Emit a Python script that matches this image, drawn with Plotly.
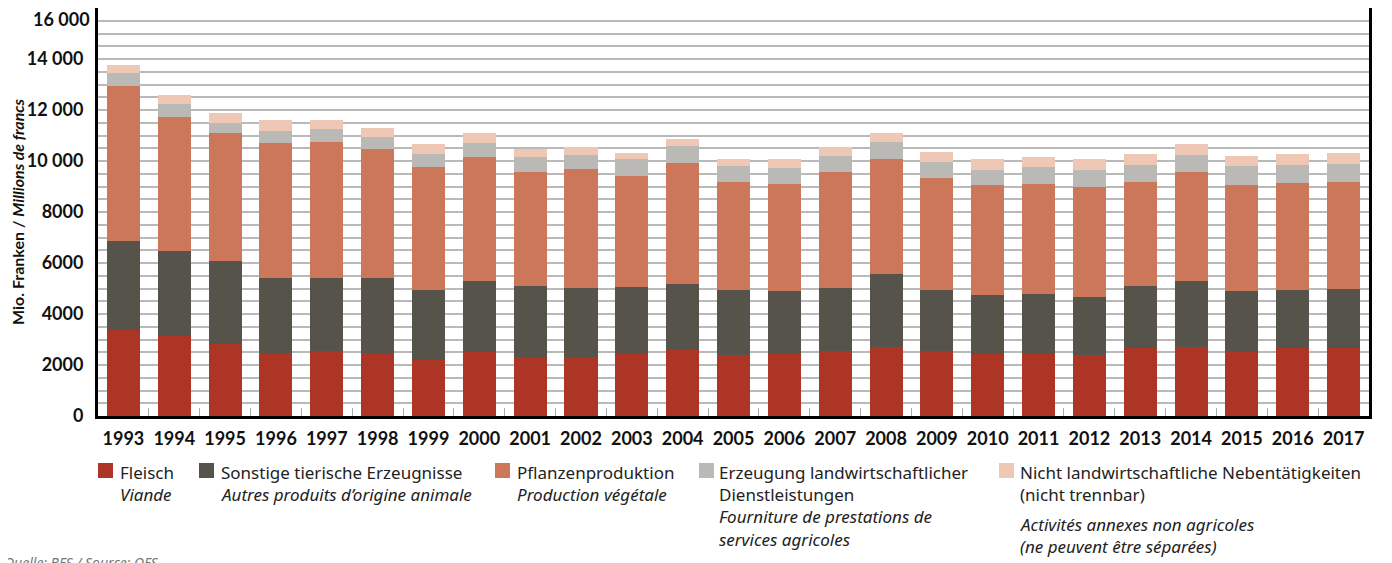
import plotly.graph_objects as go

years = [str(y) for y in range(1993, 2018)]

fleisch = [3390, 3150, 2840, 2470, 2550, 2470, 2210, 2520, 2330, 2330, 2440, 2600, 2410,
           2440, 2560, 2720, 2560, 2440, 2440, 2410, 2680, 2720, 2520, 2680, 2680]
sonstige = [3490, 3340, 3250, 2960, 2880, 2960, 2750, 2790, 2780, 2700, 2630, 2590, 2550,
            2480, 2470, 2860, 2400, 2320, 2360, 2270, 2430, 2590, 2400, 2280, 2310]
pflanzen = [6080, 5250, 4990, 5290, 5330, 5060, 4820, 4860, 4470, 4670, 4360, 4750, 4230,
            4190, 4550, 4510, 4390, 4280, 4310, 4320, 4080, 4240, 4150, 4190, 4200]
dienst = [510, 510, 430, 470, 510, 470, 510, 550, 590, 550, 630, 660, 630,
          630, 630, 670, 630, 620, 670, 660, 670, 700, 750, 710, 710]
neben = [310, 320, 390, 430, 350, 350, 390, 360, 320, 280, 270, 280, 270,
         320, 320, 350, 390, 400, 390, 430, 430, 430, 390, 430, 430]

series_de = ["Fleisch", "Sonstige tierische Erzeugnisse", "Pflanzenproduktion",
             "Erzeugung landwirtschaftlicher Dienstleistungen",
             "Nicht landwirtschaftliche Nebentätigkeiten (nicht trennbar)"]
series_fr = ["Viande", "Autres produits d’origine animale", "Production végétale",
             "Fourniture de prestations de services agricoles",
             "Activités annexes non agricoles (ne peuvent être séparées)"]
colors = ["#AD3525", "#56544A", "#CC775A", "#BBB9B6", "#EEC8B4"]

ytickvals = [0, 2000, 4000, 6000, 8000, 10000, 12000, 14000]
yticktext = ["0", "2000", "4000", "6000", "8000", "10 000", "12 000", "14 000"]
ymax = 16000
ymax_label = "16 000"

fig = go.Figure()
for vals, de, fr, col in zip([fleisch, sonstige, pflanzen, dienst, neben], series_de, series_fr, colors):
    fig.add_trace(go.Bar(x=years, y=vals, name=de + " / " + fr, marker=dict(color=col, line=dict(width=0)),
                         showlegend=False))

# page offset of the figure (body margin)
OFF = 8
W, H = 1392, 563
# plot area in page pixels: left 98, right 1369, top 8, bottom 416
L = 98 - OFF
T = 8 - OFF
R = W - (1369 - OFF)
B = H - (416 - OFF)
pw, ph = W - L - R, H - T - B


def px(x):
    return (x - OFF - L) / pw


def py(y):
    return (H - B - (y - OFF)) / ph


txt_col = "#222222"
lfont = "Noto Sans"
tfont = dict(family="Lato", size=18, color="#111111", weight="bold")
fs = 17
annotations = []
shapes = []

legend_items = [
    (98, 118, [(series_de[0], False, 472), (series_fr[0], True, 494)]),
    (199, 219, [(series_de[1], False, 472), (series_fr[1], True, 494)]),
    (495, 515, [(series_de[2], False, 472), (series_fr[2], True, 494)]),
    (699, 717, [("Erzeugung landwirtschaftlicher", False, 472), ("Dienstleistungen", False, 494),
                ("Fourniture de prestations de", True, 516), ("services agricoles", True, 539)]),
    (999, 1018, [("Nicht landwirtschaftliche Nebentätigkeiten", False, 472), ("(nicht trennbar)", False, 494),
                 ("Activités annexes non agricoles", True, 524), ("(ne peuvent être séparées)", True, 546)]),
]
for (sx, tx, lines), col in zip(legend_items, colors):
    shapes.append(dict(type="rect", xref="paper", yref="paper", x0=px(sx), x1=px(sx + 15),
                       y0=py(463), y1=py(478), fillcolor=col, line=dict(width=0)))
    for t, it, cy in lines:
        annotations.append(dict(text=("<i>%s</i>" % t) if it else t, xref="paper", yref="paper",
                                x=px(tx), y=py(cy), xanchor="left", yanchor="middle", showarrow=False,
                                font=dict(family=lfont, size=fs, color=txt_col)))

# top tick label, kept inside the page just below the top border
annotations.append(dict(text=ymax_label, xref="paper", yref="y", x=0, y=ymax, xanchor="right",
                        yanchor="top", xshift=-6, yshift=2, showarrow=False, font=tfont))

annotations.append(dict(text="<i>Quelle: BFS / Source: OFS</i>", xref="paper", yref="paper",
                        x=px(2), y=py(551), xanchor="left", yanchor="top", showarrow=False,
                        font=dict(family=lfont, size=14, color="#777777")))

fig.update_layout(
    template="none",
    barmode="stack",
    bargap=0.35,
    width=W, height=H,
    margin=dict(l=L, r=R, t=T, b=B, autoexpand=False),
    plot_bgcolor="white", paper_bgcolor="white",
    annotations=annotations,
    shapes=shapes,
    showlegend=False,
)
fig.update_xaxes(
    type="category", automargin=False, tickangle=0,
    showline=True, linewidth=3, linecolor="black", mirror=True,
    ticks="inside", tickson="boundaries", ticklen=8, tickcolor="#aaaaaa", tickwidth=1,
    tickfont=tfont,
    ticklabelstandoff=4,
    showgrid=False, zeroline=False,
)
fig.update_yaxes(
    range=[0, ymax], automargin=False,
    tickmode="array", tickvals=ytickvals, ticktext=yticktext,
    tickfont=tfont,
    ticks="", ticklabelstandoff=8,
    showline=True, linewidth=3, linecolor="black", mirror=True,
    showgrid=True, gridcolor="#b9b9b9", gridwidth=2,
    minor=dict(dtick=500, tick0=0, showgrid=True, gridcolor="#b9b9b9", gridwidth=2),
    zeroline=False,
    title=dict(text="Mio. Franken / <i>Millions de francs</i>",
               font=dict(family="Lato", size=16, color="#111111", weight="bold"), standoff=10),
)

fig.write_html("out.html")
